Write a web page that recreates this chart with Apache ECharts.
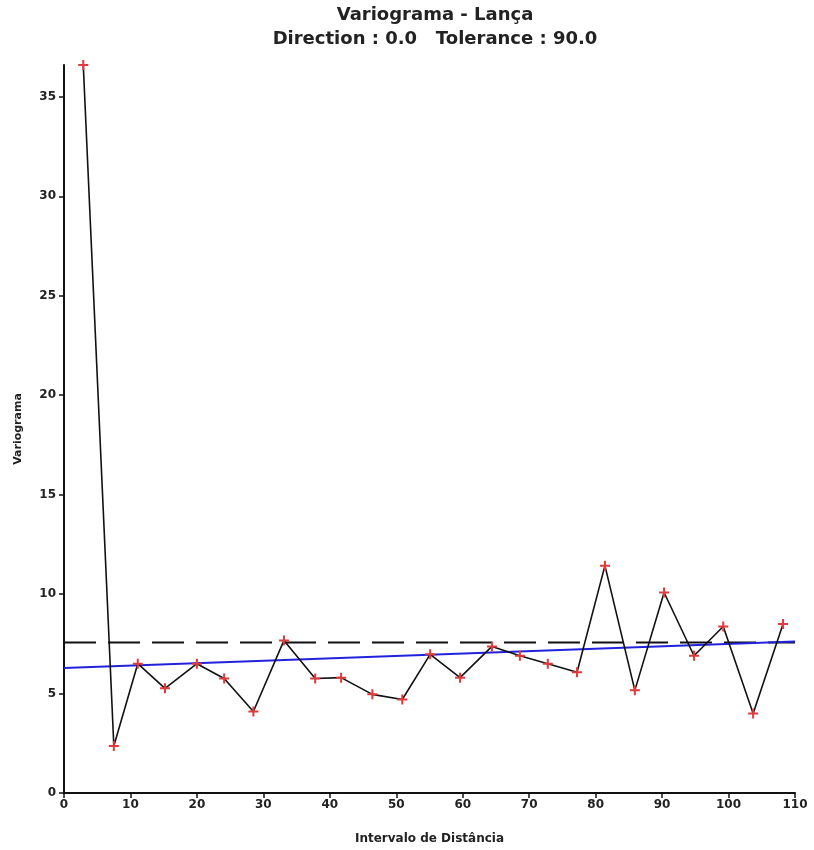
<!DOCTYPE html>
<html>
<head>
<meta charset="utf-8">
<script src="https://cdn.jsdelivr.net/npm/echarts@6/dist/echarts.min.js"></script>
<style>html,body{margin:0;padding:0;background:#fff}#c{width:814px;height:850px}</style>
</head>
<body>
<div id="c"></div>
<script>
// Experimental variogram: lag distance and variogram value
const lagDistance = [2.9, 7.5, 11.1, 15.2, 20.0, 24.1, 28.5, 33.1, 37.8, 41.7, 46.4, 50.9, 55.1, 59.6, 64.4, 68.6, 72.8, 77.2, 81.4, 85.9, 90.3, 94.8, 99.2, 103.7, 108.2];
const variogramValue = [36.6, 2.36, 6.5, 5.26, 6.5, 5.76, 4.1, 7.67, 5.76, 5.8, 4.96, 4.7, 6.97, 5.8, 7.37, 6.9, 6.5, 6.07, 11.43, 5.16, 10.08, 6.9, 8.37, 4.0, 8.5];
// Sill (dashed) and fitted model (blue) endpoints
const sillX = [0, 110];
const sillY = [7.57, 7.57];
const modelX = [0, 110];
const modelY = [6.28, 7.62];
// Axis ticks
const xTicks = [0, 10, 20, 30, 40, 50, 60, 70, 80, 90, 100, 110];
const yTicks = [0, 5, 10, 15, 20, 25, 30, 35];

const zip = (a, b) => a.map((v, i) => [v, b[i]]);
const chart = echarts.init(document.getElementById('c'));
const font = 'DejaVu Sans, Arial, sans-serif';
chart.setOption({
  animation: false,
  backgroundColor: '#fff',
  title: {
    text: 'Variograma - Lança\nDirection : 0.0   Tolerance : 90.0',
    left: 430, top: -2, textAlign: 'center',
    textStyle: { fontFamily: font, fontSize: 18, fontWeight: 'bold', color: '#222', lineHeight: 24 }
  },
  grid: { left: 64, right: 19, top: 65, bottom: 57, containLabel: false },
  xAxis: {
    type: 'value', min: 0, max: 110, interval: 10,
    name: 'Intervalo de Distância', nameLocation: 'middle', nameGap: 40,
    nameTextStyle: { fontFamily: font, fontSize: 12, fontWeight: 'bold', color: '#222' },
    axisLine: { lineStyle: { color: '#111', width: 2 } },
    axisTick: { show: true, length: 5, lineStyle: { color: '#111', width: 1.5 }, customValues: xTicks },
    axisLabel: { fontFamily: font, fontSize: 12, fontWeight: 'bold', color: '#222', margin: 6, customValues: xTicks },
    splitLine: { show: false }
  },
  yAxis: {
    type: 'value', min: 0, max: 36.6,
    name: 'Variograma', nameLocation: 'middle', nameGap: 40,
    nameTextStyle: { fontFamily: font, fontSize: 11, fontWeight: 'bold', color: '#222' },
    axisLine: { show: true, lineStyle: { color: '#111', width: 2 } },
    axisTick: { show: true, length: 5, lineStyle: { color: '#111', width: 1.5 }, customValues: yTicks },
    axisLabel: { fontFamily: font, fontSize: 12, fontWeight: 'bold', color: '#222', margin: 8, customValues: yTicks },
    splitLine: { show: false }
  },
  series: [
    {
      type: 'line', data: zip(sillX, sillY), symbol: 'none',
      lineStyle: { color: '#111', width: 2, type: [32, 12] }, z: 2
    },
    {
      type: 'line', data: zip(modelX, modelY), symbol: 'none',
      lineStyle: { color: '#2222dd', width: 2 }, z: 3
    },
    {
      type: 'line', data: zip(lagDistance, variogramValue),
      symbol: 'path://M4,0 L6,0 L6,4 L10,4 L10,6 L6,6 L6,10 L4,10 L4,6 L0,6 L0,4 L4,4 Z',
      symbolSize: 10, showSymbol: true,
      itemStyle: { color: '#e03a3a', borderWidth: 0 },
      lineStyle: { color: '#111', width: 1.6 }, z: 4
    }
  ]
});
</script>
</body>
</html>
